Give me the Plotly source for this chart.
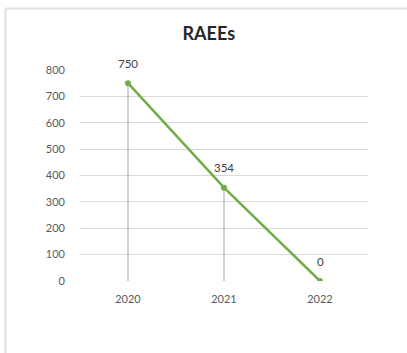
import plotly.graph_objects as go

years = ["2020", "2021", "2022"]
values = [750, 354, 0]
y_ticks = [0, 100, 200, 300, 400, 500, 600, 700, 800]
title = "RAEEs"

FONT = "Lato, Open Sans, sans-serif"

fig = go.Figure()

# drop lines from each point to the axis
dx, dy = [], []
for yr, v in zip(years, values):
    dx += [yr, yr, None]
    dy += [v, 0, None]
fig.add_trace(go.Scatter(x=dx, y=dy, mode="lines",
                         line=dict(color="#a6a6a6", width=1),
                         hoverinfo="skip", showlegend=False))

fig.add_trace(go.Scatter(x=years, y=values, mode="lines+markers",
                         line=dict(color="#70ad47", width=2.5),
                         marker=dict(color="#70ad47", size=6),
                         showlegend=False))

for i, v in enumerate(values):
    fig.add_annotation(x=i, y=v, xref="x", yref="y", text=str(v),
                       showarrow=False, yshift=20,
                       font=dict(size=11.5, color="#404040", family=FONT))

fig.update_layout(
    width=407, height=353,
    margin=dict(l=80, r=39, t=70, b=72),
    paper_bgcolor="white", plot_bgcolor="white",
    font=dict(family=FONT, size=11, color="#595959"),
    title=dict(text="<b>" + title + "</b>", x=0.513, xanchor="center",
               y=1 - 34 / 353, yanchor="middle",
               font=dict(size=18, color="#262626", family=FONT)),
    xaxis=dict(type="category", range=[-0.5, 2.5], showgrid=False,
               showline=False, zeroline=False, ticks="", ticklabelstandoff=10),
    yaxis=dict(range=[0, 800], tickvals=y_ticks, showgrid=True,
               gridcolor="#d9d9d9", gridwidth=1, zeroline=False,
               showline=False, ticks="", ticklabelstandoff=14),
    shapes=[
        dict(type="line", xref="paper", yref="paper",
             x0=(5.5 - 80) / 288, x1=(407 - 80) / 288 + 0.1,
             y0=(281 - 8.5) / 211, y1=(281 - 8.5) / 211,
             line=dict(color="#e0e0e0", width=2)),
        dict(type="line", xref="paper", yref="paper",
             x0=(5.5 - 80) / 288, x1=(5.5 - 80) / 288,
             y0=(281 - 8.5) / 211, y1=(281 - 360) / 211,
             line=dict(color="#e0e0e0", width=2)),
    ],
)

fig.write_html("out.html")
